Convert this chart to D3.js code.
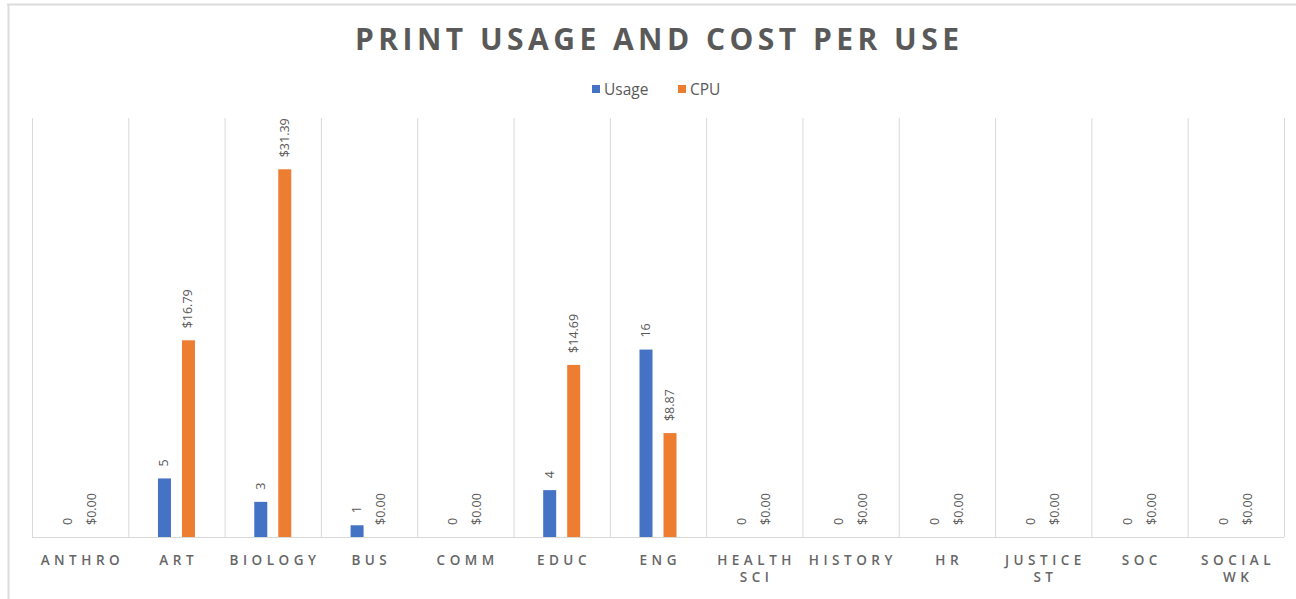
<!DOCTYPE html>
<html>
<head>
<meta charset="utf-8">
<script src="https://cdn.jsdelivr.net/npm/d3@7"></script>
<style>
  html, body { margin: 0; padding: 0; background: #ffffff; }
  svg { display: block; }
</style>
</head>
<body>
<svg id="chart" width="1296" height="599"></svg>
<script>
// ---- data ----
const categories = ["ANTHRO","ART","BIOLOGY","BUS","COMM","EDUC","ENG","HEALTH SCI","HISTORY","HR","JUSTICE ST","SOC","SOCIAL WK"];
const categoryLines = [["ANTHRO"],["ART"],["BIOLOGY"],["BUS"],["COMM"],["EDUC"],["ENG"],["HEALTH","SCI"],["HISTORY"],["HR"],["JUSTICE","ST"],["SOC"],["SOCIAL","WK"]];
const seriesNames = ["Usage","CPU"];
const usage = [0,5,3,1,0,4,16,0,0,0,0,0,0];
const cpu   = [0,16.79,31.39,0,0,14.69,8.87,0,0,0,0,0,0];
const seriesColors = ["#4472C4","#ED7D31"];
const titleText = "PRINT USAGE AND COST PER USE";

const svg = d3.select("#chart");
const W = 1296, H = 599;
const textColor = "#595959";
const gridColor = "#d9d9d9";
const font = "'Open Sans', 'Liberation Sans', sans-serif";

// chart frame (top & left edge)
svg.append("line").attr("x1",7).attr("x2",W).attr("y1",4.5).attr("y2",4.5).attr("stroke","#dcdcdc").attr("stroke-width",2);
svg.append("line").attr("x1",8.5).attr("x2",8.5).attr("y1",4).attr("y2",H).attr("stroke","#dcdcdc").attr("stroke-width",2);

// scales
const plotL = 32, plotR = 1284, baseY = 537, gridTop = 118;
const x0 = d3.scaleBand().domain(categories).range([plotL, plotR]).padding(0);
const x1 = d3.scaleBand().domain(seriesNames).range([-18.5, 18.5]).paddingInner(11/24).paddingOuter(0);
const y = d3.scaleLinear().domain([0, 35]).range([baseY, 127]);

// vertical gridlines at category boundaries
const bounds = categories.map(c => x0(c)).concat([plotR]);
svg.append("g").selectAll("line").data(bounds).join("line")
  .attr("x1", d => d + 0.5).attr("x2", d => d + 0.5)
  .attr("y1", gridTop).attr("y2", baseY)
  .attr("stroke", gridColor).attr("stroke-width", 1);

// baseline
svg.append("line").attr("x1", plotL).attr("x2", plotR).attr("y1", baseY + 0.5).attr("y2", baseY + 0.5)
  .attr("stroke", gridColor).attr("stroke-width", 1);

// bars
const rows = categories.map((c, i) => ({cat: c, vals: [
  {s: "Usage", v: usage[i], label: String(usage[i])},
  {s: "CPU", v: cpu[i], label: "$" + cpu[i].toFixed(2)}
]}));

const gCat = svg.append("g").selectAll("g").data(rows).join("g")
  .attr("transform", d => `translate(${x0(d.cat) + x0.bandwidth()/2},0)`);

gCat.selectAll("rect").data(d => d.vals).join("rect")
  .attr("x", d => x1(d.s))
  .attr("width", x1.bandwidth())
  .attr("y", d => y(d.v))
  .attr("height", d => baseY - y(d.v))
  .attr("fill", (d, i) => seriesColors[i]);

// value labels (rotated)
gCat.selectAll("text.val").data(d => d.vals).join("text")
  .attr("class", "val")
  .attr("transform", d => `translate(${x1(d.s) + x1.bandwidth()/2 + 4},${y(d.v) - 12}) rotate(-90)`)
  .attr("text-anchor", "start")
  .attr("font-family", font)
  .attr("font-size", 12.5)
  .attr("fill", textColor)
  .text(d => d.label);

// category labels
const ls = 4.5;
const gLab = svg.append("g").selectAll("text").data(categories).join("text")
  .attr("x", d => x0(d) + x0.bandwidth()/2)
  .attr("y", 565)
  .attr("text-anchor", "middle")
  .attr("font-family", font)
  .attr("font-size", 13.5)
  .attr("font-weight", 600)
  .attr("letter-spacing", ls + "px")
  .attr("fill", "#666666");
gLab.selectAll("tspan").data((d, i) => categoryLines[i]).join("tspan")
  .attr("x", function() { return d3.select(this.parentNode).attr("x"); })
  .attr("dx", ls / 2)
  .attr("dy", (d, i) => i === 0 ? 0 : 17)
  .text(d => d);

// title
svg.append("text")
  .attr("x", 657).attr("y", 50)
  .attr("text-anchor", "middle")
  .attr("font-family", font)
  .attr("font-weight", "bold")
  .attr("font-size", 30)
  .attr("fill", textColor)
  .attr("textLength", 604)
  .attr("lengthAdjust", "spacing")
  .text(titleText);

// legend
const legendItems = [{name: "Usage", x: 592, color: seriesColors[0]}, {name: "CPU", x: 678, color: seriesColors[1]}];
const lg = svg.append("g").selectAll("g").data(legendItems).join("g")
  .attr("transform", d => `translate(${d.x},0)`);
lg.append("rect").attr("x", 0).attr("y", 85).attr("width", 8).attr("height", 8).attr("fill", d => d.color);
lg.append("text").attr("x", 12).attr("y", 95)
  .attr("font-family", font).attr("font-size", 15.5).attr("fill", textColor)
  .text(d => d.name);
</script>
</body>
</html>
